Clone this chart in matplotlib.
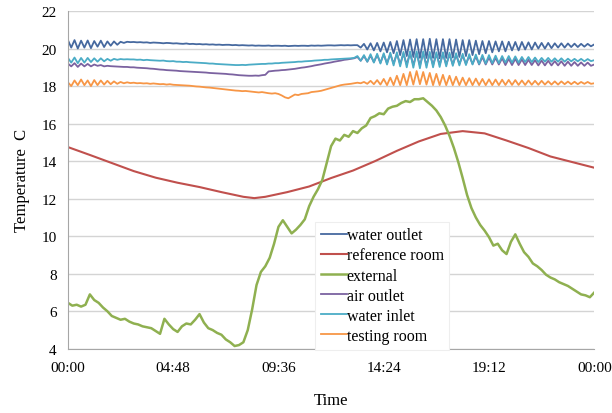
import numpy as np
import matplotlib
matplotlib.use("Agg")
import matplotlib.pyplot as plt

plt.rcParams['font.family'] = ['Liberation Serif', 'DejaVu Serif']

# logged temperatures, hours since midnight
t_fast = np.linspace(0, 24, 161)   # 0.15 h logger step
t_ext = np.linspace(0, 24, 121)    # 0.2 h step

water_outlet = [
    20.45, 20.05, 20.45, 20.00, 20.42, 20.05, 20.43, 20.02, 20.40, 20.10, 20.42, 20.08, 20.38, 20.15, 20.38, 20.20, 20.36, 20.30, 20.36, 20.34,
    20.35, 20.33, 20.34, 20.32, 20.33, 20.30, 20.32, 20.31, 20.30, 20.28, 20.30, 20.29, 20.27, 20.28, 20.26, 20.25, 20.27, 20.24, 20.25, 20.23,
    20.24, 20.22, 20.23, 20.21, 20.22, 20.20, 20.21, 20.19, 20.20, 20.20, 20.18, 20.19, 20.17, 20.18, 20.17, 20.16, 20.17, 20.15, 20.16, 20.15,
    20.15, 20.16, 20.14, 20.15, 20.15, 20.14, 20.15, 20.13, 20.14, 20.15, 20.14, 20.15, 20.15, 20.14, 20.16, 20.15, 20.16, 20.15, 20.16, 20.17,
    20.17, 20.16, 20.17, 20.18, 20.17, 20.18, 20.17, 20.18, 20.18, 20.05, 20.25, 19.95, 20.28, 19.90, 20.30, 19.85, 20.32, 19.80, 20.35, 19.75,
    20.40, 19.65, 20.45, 19.60, 20.48, 19.55, 20.50, 19.50, 20.50, 19.50, 20.52, 19.50, 20.50, 19.48, 20.50, 19.50, 20.50, 19.52, 20.48, 19.55,
    20.45, 19.60, 20.45, 19.65, 20.42, 19.70, 20.40, 19.75, 20.40, 19.80, 20.38, 19.85, 20.38, 19.85, 20.36, 19.90, 20.35, 19.90, 20.35, 19.95,
    20.33, 19.95, 20.32, 20.00, 20.30, 20.00, 20.30, 20.02, 20.28, 20.05, 20.28, 20.05, 20.27, 20.08, 20.26, 20.08, 20.25, 20.10, 20.25, 20.12,
    20.22,
]

water_inlet = [
    19.50, 19.25, 19.52, 19.22, 19.50, 19.25, 19.50, 19.28, 19.48, 19.30, 19.48, 19.32, 19.45, 19.35, 19.45, 19.40, 19.44, 19.42, 19.43, 19.42,
    19.42, 19.40, 19.41, 19.38, 19.40, 19.38, 19.37, 19.36, 19.35, 19.36, 19.33, 19.32, 19.33, 19.30, 19.30, 19.28, 19.29, 19.27, 19.26, 19.25,
    19.24, 19.23, 19.22, 19.20, 19.20, 19.18, 19.17, 19.16, 19.15, 19.14, 19.13, 19.12, 19.12, 19.13, 19.12, 19.14, 19.15, 19.16, 19.17, 19.18,
    19.18, 19.20, 19.20, 19.22, 19.22, 19.24, 19.25, 19.26, 19.27, 19.28, 19.30, 19.30, 19.32, 19.33, 19.34, 19.36, 19.37, 19.38, 19.40, 19.40,
    19.42, 19.43, 19.44, 19.45, 19.46, 19.47, 19.48, 19.50, 19.60, 19.35, 19.65, 19.30, 19.70, 19.25, 19.72, 19.20, 19.75, 19.15, 19.78, 19.10,
    19.80, 19.05, 19.82, 19.00, 19.85, 18.98, 19.85, 18.95, 19.85, 18.98, 19.82, 19.00, 19.80, 19.02, 19.80, 19.05, 19.78, 19.08, 19.75, 19.10,
    19.72, 19.12, 19.70, 19.15, 19.68, 19.18, 19.66, 19.20, 19.65, 19.22, 19.62, 19.22, 19.60, 19.25, 19.60, 19.25, 19.58, 19.25, 19.55, 19.28,
    19.55, 19.28, 19.52, 19.28, 19.50, 19.30, 19.50, 19.30, 19.48, 19.30, 19.48, 19.30, 19.46, 19.32, 19.45, 19.32, 19.45, 19.32, 19.44, 19.33,
    19.38,
]

air_outlet = [
    19.20, 19.05, 19.22, 19.02, 19.20, 19.05, 19.18, 19.05, 19.15, 19.08, 19.12, 19.05, 19.08, 19.06, 19.05, 19.04, 19.03, 19.02, 19.02, 19.00,
    19.00, 18.98, 18.97, 18.96, 18.95, 18.93, 18.92, 18.90, 18.88, 18.87, 18.85, 18.84, 18.83, 18.82, 18.80, 18.79, 18.78, 18.77, 18.76, 18.75,
    18.74, 18.73, 18.72, 18.70, 18.69, 18.68, 18.67, 18.66, 18.65, 18.63, 18.62, 18.60, 18.58, 18.57, 18.56, 18.55, 18.55, 18.56, 18.55, 18.58,
    18.60, 18.78, 18.80, 18.82, 18.83, 18.85, 18.86, 18.88, 18.90, 18.92, 18.95, 18.98, 19.00, 19.03, 19.06, 19.10, 19.13, 19.16, 19.20, 19.23,
    19.26, 19.30, 19.33, 19.36, 19.40, 19.42, 19.45, 19.48, 19.55, 19.35, 19.60, 19.30, 19.62, 19.28, 19.65, 19.25, 19.68, 19.22, 19.70, 19.20,
    19.72, 19.18, 19.72, 19.15, 19.75, 19.12, 19.75, 19.10, 19.75, 19.12, 19.72, 19.12, 19.70, 19.15, 19.70, 19.15, 19.68, 19.15, 19.65, 19.18,
    19.62, 19.18, 19.60, 19.18, 19.58, 19.15, 19.55, 19.15, 19.52, 19.15, 19.50, 19.15, 19.48, 19.12, 19.45, 19.12, 19.45, 19.12, 19.42, 19.12,
    19.40, 19.12, 19.38, 19.10, 19.36, 19.10, 19.35, 19.10, 19.33, 19.10, 19.32, 19.08, 19.30, 19.08, 19.28, 19.08, 19.26, 19.08, 19.25, 19.08,
    19.15,
]

testing_room = [
    18.20, 18.00, 18.30, 18.05, 18.35, 18.05, 18.30, 18.00, 18.32, 18.05, 18.30, 18.08, 18.28, 18.10, 18.25, 18.12, 18.22, 18.15, 18.20, 18.16,
    18.18, 18.15, 18.16, 18.14, 18.15, 18.12, 18.14, 18.12, 18.10, 18.11, 18.08, 18.10, 18.07, 18.06, 18.05, 18.04, 18.03, 18.02, 18.00, 17.98,
    17.97, 17.95, 17.93, 17.92, 17.90, 17.88, 17.86, 17.84, 17.82, 17.80, 17.78, 17.76, 17.75, 17.73, 17.74, 17.72, 17.70, 17.68, 17.66, 17.68,
    17.65, 17.62, 17.60, 17.62, 17.58, 17.50, 17.40, 17.35, 17.45, 17.55, 17.52, 17.58, 17.60, 17.62, 17.68, 17.70, 17.72, 17.75, 17.80, 17.85,
    17.90, 17.95, 18.00, 18.05, 18.08, 18.10, 18.12, 18.15, 18.18, 18.15, 18.22, 18.12, 18.28, 18.10, 18.32, 18.08, 18.38, 18.05, 18.45, 18.05,
    18.55, 18.05, 18.65, 18.05, 18.75, 18.08, 18.80, 18.10, 18.75, 18.08, 18.70, 18.05, 18.65, 18.05, 18.60, 18.05, 18.55, 18.05, 18.50, 18.05,
    18.45, 18.05, 18.42, 18.05, 18.40, 18.05, 18.38, 18.05, 18.36, 18.05, 18.35, 18.05, 18.34, 18.06, 18.33, 18.06, 18.32, 18.06, 18.30, 18.06,
    18.30, 18.07, 18.28, 18.07, 18.28, 18.08, 18.26, 18.08, 18.25, 18.08, 18.25, 18.10, 18.24, 18.10, 18.23, 18.10, 18.22, 18.12, 18.22, 18.12,
    18.15,
]

external = [
    6.45, 6.30, 6.35, 6.25, 6.35, 6.90, 6.60, 6.45, 6.20, 6.00,
    5.75, 5.65, 5.55, 5.60, 5.45, 5.35, 5.30, 5.20, 5.15, 5.10,
    4.95, 4.80, 5.60, 5.30, 5.05, 4.90, 5.20, 5.35, 5.30, 5.55,
    5.85, 5.40, 5.10, 5.00, 4.85, 4.75, 4.50, 4.35, 4.15, 4.20,
    4.35, 5.00, 6.10, 7.40, 8.10, 8.40, 8.85, 9.60, 10.50, 10.85,
    10.50, 10.15, 10.35, 10.60, 10.90, 11.60, 12.10, 12.50, 13.00, 13.90,
    14.80, 15.20, 15.10, 15.40, 15.30, 15.60, 15.50, 15.75, 15.90, 16.30,
    16.40, 16.55, 16.50, 16.80, 16.90, 16.95, 17.10, 17.20, 17.15, 17.30,
    17.30, 17.35, 17.15, 16.95, 16.70, 16.35, 15.90, 15.35, 14.70, 13.95,
    13.10, 12.20, 11.50, 11.00, 10.60, 10.30, 9.95, 9.50, 9.60, 9.25,
    9.05, 9.70, 10.10, 9.60, 9.15, 8.90, 8.55, 8.40, 8.20, 7.95,
    7.80, 7.70, 7.55, 7.45, 7.35, 7.20, 7.05, 6.90, 6.85, 6.75,
    7.00,
]

ref_t = [0, 1, 2, 3, 4, 5, 6, 7, 8, 8.5, 9, 10, 11, 12, 13, 14, 15, 16, 17, 18, 19, 20, 21, 22, 23, 24]
reference_room = [14.75, 14.33, 13.90, 13.47, 13.12, 12.85, 12.62, 12.35, 12.10, 12.03, 12.10, 12.35, 12.65,
                  13.10, 13.50, 14.00, 14.55, 15.05, 15.45, 15.60, 15.48, 15.10, 14.70, 14.25, 13.95, 13.65]

tick_hours = [0, 4.8, 9.6, 14.4, 19.2, 24]
tick_labels = ['00:00', '04:48', '09:36', '14:24', '19:12', '00:00']

fig = plt.figure(figsize=(6.12, 4.14), dpi=100)
ax = fig.add_axes([0.111, 0.155, 0.860, 0.816])

ax.plot(t_fast, water_outlet, color='#46699f', lw=1.3, label='water outlet')
ax.plot(ref_t, reference_room, color='#c0504d', lw=1.5, label='reference room')
ax.plot(t_ext, external, color='#8fb050', lw=1.8, label='external')
ax.plot(t_fast, air_outlet, color='#7b62a0', lw=1.3, label='air outlet')
ax.plot(t_fast, water_inlet, color='#4bacc6', lw=1.3, label='water inlet')
ax.plot(t_fast, testing_room, color='#f79646', lw=1.3, label='testing room')

ax.set_xlim(0, 24)
ax.set_ylim(4, 22)
ax.set_yticks(range(4, 23, 2))
ax.set_xticks(tick_hours)
ax.set_xticklabels(tick_labels)
ax.tick_params(length=0, labelsize=11, colors='black')
ax.tick_params(axis='x', pad=9)
ax.tick_params(axis='y', pad=8)

ax.grid(axis='y', color='#d4d4d4', lw=1)
ax.set_axisbelow(True)
for side in ['top', 'right']:
    ax.spines[side].set_visible(False)
ax.spines['left'].set_color('#a6a6a6')
ax.spines['bottom'].set_color('#a6a6a6')

ax.set_xlabel('Time', fontsize=12, labelpad=13)
ax.set_ylabel('Temperature  C', fontsize=12, labelpad=8)

leg = ax.legend(loc='upper left', bbox_to_anchor=(0.455, 0.4), fontsize=11.5,
                handlelength=1.6, handletextpad=0.0, labelspacing=0.26,
                borderpad=0.35, fancybox=False, framealpha=1, edgecolor='#eeeeee')
leg.get_frame().set_linewidth(0.8)

fig.savefig('out.png', dpi=100)
